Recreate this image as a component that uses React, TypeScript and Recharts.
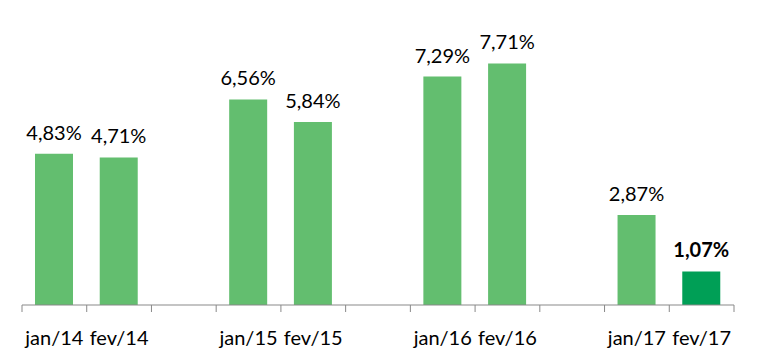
import React from "react";
import { BarChart, Bar, XAxis, YAxis, Cell, LabelList } from "recharts";

const categories = ["jan/14", "fev/14", "", "jan/15", "fev/15", "", "jan/16", "fev/16", "", "jan/17", "fev/17"];
const values: (number | null)[] = [4.83, 4.71, null, 6.56, 5.84, null, 7.29, 7.71, null, 2.87, 1.07];
const highlightIndex = 10;
const boundaryTicks = [0, 1, 2, 3, 4, 5, 6, 7, 8, 9, 10, 11];

const data = categories.map((c, i) => ({ label: c, value: values[i], pos: i + 0.5 }));

const FONT = "Lato, 'Open Sans', sans-serif";
const LIGHT = "#63BE6F";
const DARK = "#009F56";

const CatTick = (props: any) => {
  const { x, y, payload } = props;
  return (
    <text x={x} y={y} dy={31} textAnchor="middle" fontFamily={FONT} fontSize={20} fill="#000">
      {payload.value}
    </text>
  );
};

const EmptyTick = () => <g />;

const ValueLabel = (props: any) => {
  const { x, y, width, value } = props;
  if (value == null) return null;
  const bold = value === values[highlightIndex];
  const txt = Number(value).toFixed(2).replace(".", ",") + "%";
  return (
    <text
      x={Number(x) + Number(width) / 2}
      y={Number(y) - 14}
      textAnchor="middle"
      fontFamily={FONT}
      fontSize={20}
      fontWeight={bold ? 700 : 400}
      fill="#000"
    >
      {txt}
    </text>
  );
};

export default function App() {
  return (
    <BarChart
      width={742}
      height={342}
      data={data}
      margin={{ top: 15, right: 16, bottom: 10, left: 14 }}
    >
      <XAxis
        xAxisId="a_grid"
        dataKey="pos"
        type="number"
        domain={[0, 11]}
        ticks={boundaryTicks}
        tick={EmptyTick}
        tickSize={7}
        height={1}
        stroke="#898989"
        allowDataOverflow
      />
      <XAxis
        xAxisId="b_cat"
        dataKey="label"
        axisLine={false}
        tickLine={false}
        tick={<CatTick />}
        height={34}
        interval={0}
      />
      <YAxis hide domain={[0, 9]} />
      <Bar dataKey="value" xAxisId="b_cat" barSize={38} isAnimationActive={false}>
        {data.map((d, i) => (
          <Cell key={i} fill={i === highlightIndex ? DARK : LIGHT} />
        ))}
        <LabelList dataKey="value" content={<ValueLabel />} />
      </Bar>
    </BarChart>
  );
}
